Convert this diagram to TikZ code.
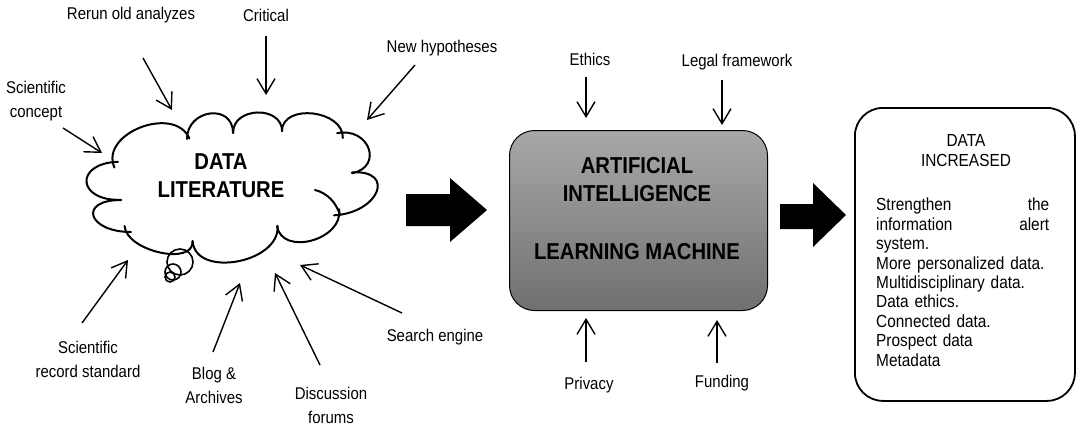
\documentclass[tikz,border=0pt]{standalone}
\usepackage{fontspec}
\setmainfont{Liberation Sans}[FakeStretch=0.88]
\usetikzlibrary{arrows.meta,calc}
\definecolor{boxtop}{RGB}{168,168,168}
\definecolor{boxbot}{RGB}{112,112,112}
\tikzset{
  lbl/.style={font=\fontsize{17}{24}\selectfont, align=center, inner sep=0pt},
  feed/.style={line width=1.4pt, -{Straight Barb[length=15pt,width=18pt]}},
  cloudline/.style={line width=2pt, line cap=round, shorten <=-6pt, shorten >=-6pt},
  ttl/.style={font=\fontsize{23}{28}\selectfont\bfseries, align=center, inner sep=0pt},
  bigarrow/.style={fill=black},
  bubble/.style={line width=1.6pt},
}
\begin{document}
\begin{tikzpicture}[x=1pt,y=-1pt]
\useasboundingbox (0,0) rectangle (1078,428);

% ---------- cloud ----------
\foreach \i/\x/\y in {1/112/162,2/187/133,3/233/127,4/282/125,5/343/132,6/358/172,
  7/340/215,8/278/232,9/193/247,10/125/232,11/115/200}
  \coordinate (c\i) at (\x,\y);
\foreach \i/\x/\y in {1/140/126,2/210/112,3/257/111,4/313/112,5/370/148,6/378/192,
  7/312/242,8/237/263,9/160/254,10/92/216,11/85/182}
  \coordinate (p\i) at (\x,\y);
\foreach \a/\p/\b in {c1/p1/c2,c2/p2/c3,c3/p3/c4,c4/p4/c5,c5/p5/c6,c6/p6/c7,
  c7/p7/c8,c8/p8/c9,c9/p9/c10,c10/p10/c11,c11/p11/c1}
  \draw[cloudline] (\a) .. controls ($0.3333*(\a)+1.3333*(\p)-0.6667*(\b)$)
     and ($0.3333*(\b)+1.3333*(\p)-0.6667*(\a)$) .. (\b);
\coordinate (hk) at (315,190);
\draw[line width=2pt, line cap=round] (hk) .. controls (327,193) and (336,202) .. (c7);
\draw[bubble] (180,262) circle[radius=13];
\draw[bubble] (173,272) circle[radius=8];
\draw[bubble] (170,277) circle[radius=5];
\node[ttl] (lit) at (221,176) {DATA\\LITERATURE};

% ---------- labels around the cloud ----------
\node[lbl] (rerun) at (131,15) {Rerun old analyzes};
\node[lbl] (crit) at (266,15) {Critical};
\node[lbl] (newh) at (442,48) {New hypotheses};
\node[lbl] (scon) at (36,101) {Scientific\\concept};
\node[lbl] (srec) at (88,359) {Scientific\\record standard};
\node[lbl] (blog) at (214,385) {Blog \&\\Archives};
\node[lbl] (disc) at (331,405) {Discussion\\forums};
\node[lbl] (seng) at (435,337) {Search engine};

\coordinate (a1s) at (143,58);  \coordinate (a1e) at (172,110);
\coordinate (a2s) at (266,36);  \coordinate (a2e) at (266,95);
\coordinate (a3s) at (415,65);  \coordinate (a3e) at (367,120);
\coordinate (a4s) at (63,128);  \coordinate (a4e) at (102,153);
\coordinate (a5s) at (82,323);  \coordinate (a5e) at (128,260);
\coordinate (a6s) at (213,352); \coordinate (a6e) at (240,283);
\coordinate (a7s) at (320,365); \coordinate (a7e) at (275,273);
\coordinate (a8s) at (402,313); \coordinate (a8e) at (300,265);
\foreach \k in {1,...,8} \draw[feed] (a\k s) -- (a\k e);

% ---------- big arrows ----------
\fill[bigarrow] (406,194) -- (450,194) -- (450,178) -- (487,210) -- (450,242)
   -- (450,226) -- (406,226) -- cycle;
\fill[bigarrow] (780,204) -- (813,204) -- (813,183) -- (846,215) -- (813,247)
   -- (813,229) -- (780,229) -- cycle;

% ---------- AI box ----------
\node[draw, line width=1pt, rounded corners=25pt, top color=boxtop, bottom color=boxbot,
  minimum width=258pt, minimum height=180pt, anchor=north west, inner sep=0pt]
  (ai) at (509,130) {};
\node[ttl] (ait) at (637,180) {ARTIFICIAL\\INTELLIGENCE};
\node[ttl] (lm) at (637,252) {LEARNING MACHINE};

\node[lbl] (eth) at (590,59) {Ethics};
\node[lbl] (leg) at (737,62) {Legal framework};
\node[lbl] (priv) at (589,385) {Privacy};
\node[lbl] (fund) at (722,383) {Funding};
\coordinate (b1s) at (586,77);  \coordinate (b1e) at (586,118);
\coordinate (b2s) at (722,80);  \coordinate (b2e) at (722,125);
\coordinate (b3s) at (586,362); \coordinate (b3e) at (586,318);
\coordinate (b4s) at (717,363); \coordinate (b4e) at (717,320);
\foreach \k in {1,...,4} \draw[feed] (b\k s) -- (b\k e);

% ---------- result box ----------
\node[draw, line width=1.8pt, rounded corners=28pt, minimum width=220pt,
  minimum height=293pt, anchor=north west, inner sep=0pt] (res) at (854,107) {};
\node[font=\fontsize{17.5}{20}\selectfont, align=center, inner sep=0pt]
  (rest) at (966,151) {DATA\\INCREASED};
\node[font=\fontsize{17.5}{19.4}\selectfont, anchor=north west, inner sep=0pt,
  text width=173pt, align=left] (resb) at (876,198)
  {Strengthen\hfill the\\ information\hfill alert\\ system.\\ More personalized data.\\
   Multidisciplinary data.\\ Data ethics.\\ Connected data.\\ Prospect data\\ Metadata};
\end{tikzpicture}
\end{document}
